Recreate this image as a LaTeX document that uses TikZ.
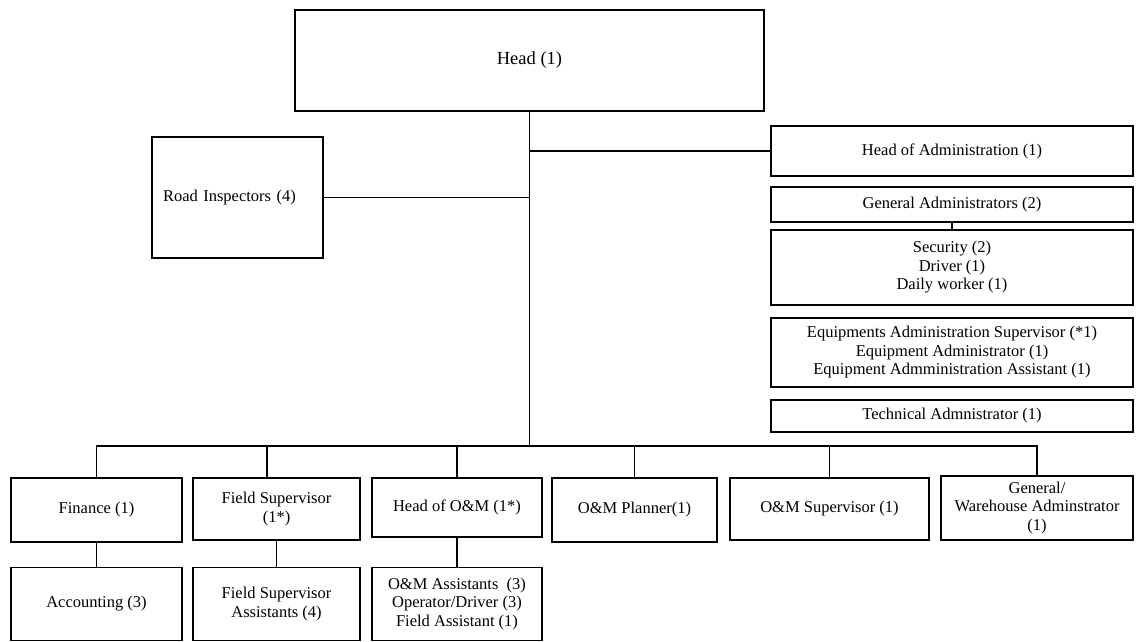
\documentclass[tikz,border=0pt]{standalone}
\usepackage{fontspec}
\setmainfont{Liberation Serif}
\begin{document}
\begin{tikzpicture}[x=1pt,y=-1pt,
  box/.style={draw, line width=1.2pt, inner sep=2pt, align=center,
    font=\fontsize{16.5}{18.5}\selectfont},
  conn/.style={line width=1.2pt}]
\useasboundingbox (0,0) rectangle (1136,642);
% top
\node[box, minimum width=469pt, minimum height=101pt, font=\fontsize{18.5}{21}\selectfont] (head) at (529.5,60.5) {Head (1)};
\node[box, minimum width=171pt, minimum height=121pt, text width=149pt, align=left] (road) at (237.5,197.5) {Road Inspectors (4)};
% right column
\node[box, minimum width=362pt, minimum height=50pt] (hoa) at (952,151) {Head of Administration (1)};
\node[box, minimum width=362pt, minimum height=35pt] (genadm) at (952,204.5) {General Administrators (2)};
\node[box, minimum width=362pt, minimum height=75pt] (sec) at (952,267.5) {Security (2)\\Driver (1)\\Daily worker (1)};
\node[box, minimum width=362pt, minimum height=69pt] (equip) at (952,352.5) {Equipments Administration Supervisor (*1)\\Equipment Administrator (1)\\Equipment Admministration Assistant (1)};
\node[box, minimum width=362pt, minimum height=32pt] (tech) at (952,416) {Technical Admnistrator (1)};
% bottom row
\node[box, minimum width=171pt, minimum height=64pt] (fin) at (96.5,510) {Finance (1)};
\node[box, minimum width=167pt, minimum height=62pt] (fs) at (276.5,509) {Field Supervisor\\(1*)};
\node[box, minimum width=170pt, minimum height=59pt] (hom) at (457,507.5) {Head of O\&M (1*)};
\node[box, minimum width=165pt, minimum height=64pt] (plan) at (634.5,510) {O\&M Planner(1)};
\node[box, minimum width=199pt, minimum height=62pt] (omsup) at (829.5,509) {O\&M Supervisor (1)};
\node[box, minimum width=192pt, minimum height=64pt] (gw) at (1037,508) {General/\\Warehouse Adminstrator\\(1)};
% lowest row
\node[box, minimum width=171pt, minimum height=73pt] (acc) at (96.5,604) {Accounting (3)};
\node[box, minimum width=167pt, minimum height=73pt] (fsa) at (276.5,604) {Field Supervisor\\Assistants (4)};
\node[box, minimum width=170pt, minimum height=73pt] (oma) at (457,604) {O\&M Assistants~~(3)\\Operator/Driver (3)\\Field Assistant (1)};
% connectors
\coordinate (bus) at (529.5,446);
\draw[conn] (head.south) -- (bus);
\draw[conn] (road.east) -- (road.east -| bus);
\draw[conn] (hoa.west) -- (hoa.west -| bus);
\draw[conn] (genadm.south) -- (sec.north);
\draw[conn] (fin.north) |- (bus) -| (gw.north);
\draw[conn] (fs.north) ++(-9.5,0) coordinate (fstop) -- (fstop |- bus);
\draw[conn] (hom.north) -- (hom.north |- bus);
\draw[conn] (plan.north) -- (plan.north |- bus);
\draw[conn] (omsup.north) -- (omsup.north |- bus);
\draw[conn] (fin.south) -- (acc.north);
\draw[conn] (fs.south) -- (fsa.north);
\draw[conn] (hom.south) -- (oma.north);
\end{tikzpicture}
\end{document}
